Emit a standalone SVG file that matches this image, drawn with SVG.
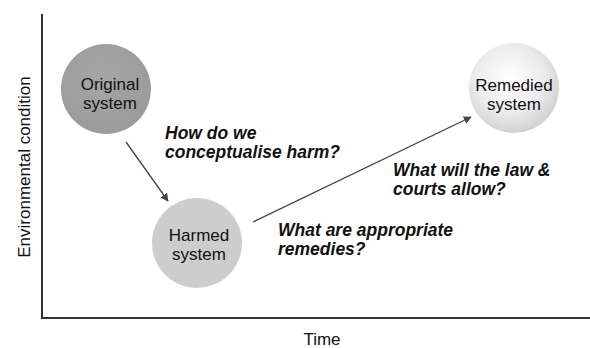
<svg xmlns="http://www.w3.org/2000/svg" width="590" height="348" viewBox="0 0 590 348">
<defs>
<radialGradient id="gOrig" cx="0.45" cy="0.4" r="0.6">
<stop offset="0" stop-color="#a6a6a6"/>
<stop offset="1" stop-color="#9b9b9b"/>
</radialGradient>
<radialGradient id="gRem" cx="0.45" cy="0.4" r="0.62">
<stop offset="0" stop-color="#ffffff"/>
<stop offset="0.6" stop-color="#ececec"/>
<stop offset="1" stop-color="#cfcfcf"/>
</radialGradient>
<marker id="ah" viewBox="0 0 10 10" refX="9" refY="5" markerWidth="8" markerHeight="8" markerUnits="userSpaceOnUse" orient="auto">
<path d="M0,0 L10,5 L0,10 z" fill="#444"/>
</marker>
<style>
.lbl{font-family:"Liberation Sans",Arial,sans-serif;font-size:17px;fill:#111;text-anchor:middle}
.q{font-family:"Liberation Sans",Arial,sans-serif;font-size:17.5px;font-weight:bold;font-style:italic;fill:#111}
.ax{font-family:"Liberation Sans",Arial,sans-serif;font-size:17px;fill:#111;text-anchor:middle}
.conn{stroke:#444;stroke-width:1.3;fill:none;marker-end:url(#ah)}
</style>
</defs>
<rect width="590" height="348" fill="#fff"/>
<g id="axes" stroke="#333" stroke-width="2" fill="none">
<line x1="42" y1="14" x2="42" y2="319"/>
<line x1="41" y1="318" x2="590" y2="318"/>
</g>
<text class="ax" transform="translate(30,167) rotate(-90)">Environmental condition</text>
<text class="ax" x="322" y="345">Time</text>
<g id="connectors">
<line class="conn" x1="126" y1="142" x2="168" y2="201"/>
<line class="conn" x1="253" y1="222" x2="471" y2="117"/>
</g>
<g id="original">
<circle cx="106" cy="89" r="45" fill="url(#gOrig)"/>
<text class="lbl" x="110" y="90">Original</text>
<text class="lbl" x="110" y="109">system</text>
</g>
<g id="harmed">
<circle cx="197" cy="243" r="45" fill="#cdcdcd"/>
<text class="lbl" x="199" y="241">Harmed</text>
<text class="lbl" x="199" y="260">system</text>
</g>
<g id="remedied">
<circle cx="514" cy="88" r="45" fill="url(#gRem)"/>
<text class="lbl" x="514" y="91">Remedied</text>
<text class="lbl" x="514" y="110">system</text>
</g>
<g id="questions">
<text class="q" x="165" y="139">How do we</text>
<text class="q" x="165" y="158">conceptualise harm?</text>
<text class="q" x="393" y="176">What will the law &amp;</text>
<text class="q" x="393" y="195">courts allow?</text>
<text class="q" x="278" y="236">What are appropriate</text>
<text class="q" x="278" y="255">remedies?</text>
</g>
</svg>
